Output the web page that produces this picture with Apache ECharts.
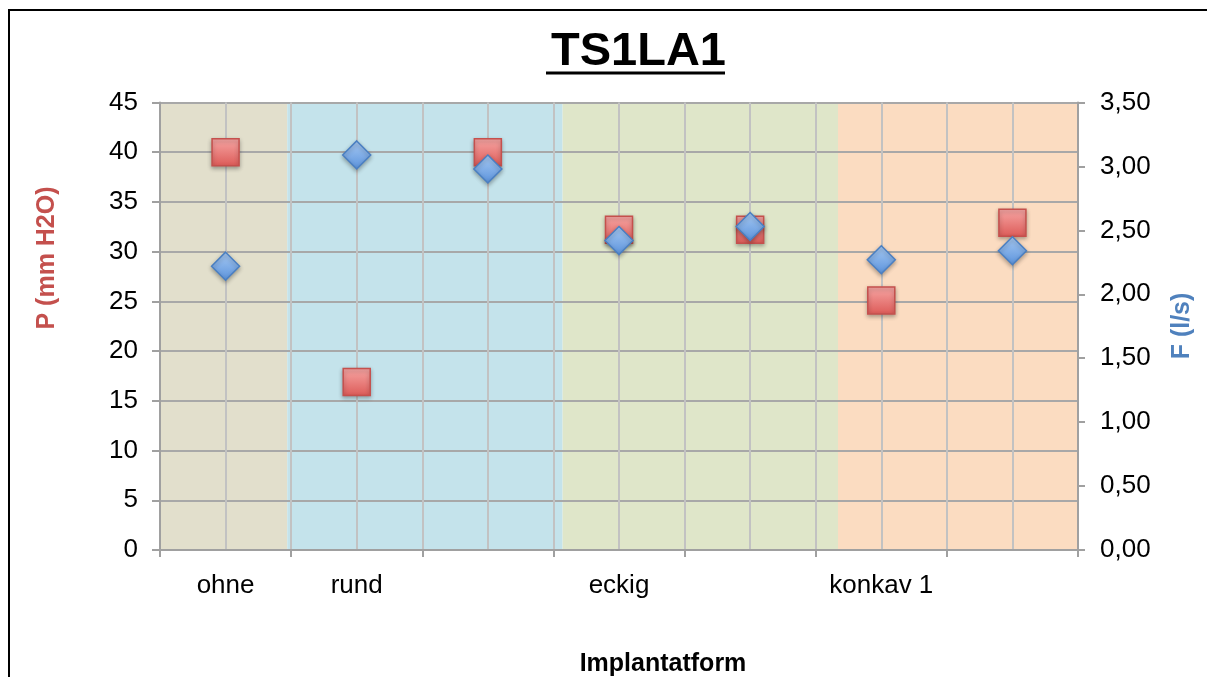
<!DOCTYPE html>
<html>
<head>
<meta charset="utf-8">
<title>TS1LA1</title>
<script src="https://cdn.jsdelivr.net/npm/echarts@6/dist/echarts.min.js"></script>
<style>
  html, body { margin: 0; padding: 0; background: #fff; }
  #chart { width: 1207px; height: 677px; }
</style>
</head>
<body>
<div id="chart"></div>
<script>
// Data
const categories = ['ohne', 'rund', '', 'eckig', '', 'konkav 1', ''];
const pressure = [40, 16.9, 40, 32.2, 32.2, 25.1, 32.9];   // P (mm H2O), left axis
const flow = [2.22, 3.09, 2.98, 2.42, 2.53, 2.27, 2.34];    // F (l/s), right axis
const leftTicks = { min: 0, max: 45, step: 5 };
const rightTicks = { min: 0, max: 3.5, step: 0.5 };
// group bands in category units (ohne | rund | eckig | konkav)
const groupEdges = [0, 0.97, 3.07, 5.17, 7];
const groupColors = ['#e2dfcc', '#c4e3eb', '#dfe6c9', '#fbdcc1'];

const FONT = '"Liberation Sans", Arial, Helvetica, sans-serif';

const chart = echarts.init(document.getElementById('chart'));

const bandData = groupColors.map((c, i) => [
  { xAxis: groupEdges[i], itemStyle: { color: c } },
  { xAxis: groupEdges[i + 1] }
]);

function grad(top, bottom) {
  return new echarts.graphic.LinearGradient(0, 0, 0, 1, [
    { offset: 0, color: top },
    { offset: 1, color: bottom }
  ]);
}

chart.setOption({
  backgroundColor: '#fff',
  animation: false,
  textStyle: { fontFamily: FONT },
  title: {
    text: 'TS1LA1',
    left: 546,
    top: 24,
    textStyle: { fontSize: 47, fontWeight: 'bold', color: '#000', fontFamily: FONT }
  },
  grid: { left: 160, right: 129, top: 102.5, bottom: 127, containLabel: false },
  xAxis: [
    {
      type: 'category',
      data: categories,
      boundaryGap: true,
      z: 2,
      axisLine: { lineStyle: { color: '#a0a0a0', width: 2 } },
      axisTick: { show: true, interval: 0, length: 7, lineStyle: { color: '#a0a0a0', width: 2 } },
      axisLabel: { interval: 0, color: '#000', fontSize: 26, margin: 23, fontFamily: FONT },
      splitLine: { show: false }
    },
    {
      type: 'value',
      min: 0,
      max: 7,
      interval: 0.5,
      position: 'bottom',
      z: 2,
      axisLine: { show: false },
      axisTick: { show: false },
      axisLabel: { show: false },
      splitLine: { show: true, lineStyle: { color: '#c2c2c2', width: 2 } }
    }
  ],
  yAxis: [
    {
      type: 'value',
      min: leftTicks.min,
      max: leftTicks.max,
      interval: leftTicks.step,
      z: 2,
      axisLine: { show: true, lineStyle: { color: '#a0a0a0', width: 2 } },
      axisTick: { show: true, length: 8, lineStyle: { color: '#a0a0a0', width: 2 } },
      axisLabel: { color: '#000', fontSize: 26, margin: 22, fontFamily: FONT },
      splitLine: { show: true, lineStyle: { color: '#a8a8a8', width: 2 } }
    },
    {
      type: 'value',
      min: rightTicks.min,
      max: rightTicks.max,
      interval: rightTicks.step,
      position: 'right',
      z: 2,
      axisLine: { show: true, lineStyle: { color: '#a0a0a0', width: 2 } },
      axisTick: { show: true, length: 7, lineStyle: { color: '#a0a0a0', width: 2 } },
      axisLabel: {
        color: '#000', fontSize: 26, margin: 22, fontFamily: FONT,
        formatter: v => v.toFixed(2).replace('.', ',')
      },
      splitLine: { show: false }
    }
  ],
  series: [
    {
      name: 'bands',
      type: 'scatter',
      xAxisIndex: 1,
      yAxisIndex: 0,
      data: [],
      z: 1,
      silent: true,
      markArea: { silent: true, z: 1, data: bandData }
    },
    {
      name: 'P (mm H2O)',
      type: 'scatter',
      xAxisIndex: 0,
      yAxisIndex: 0,
      data: pressure,
      symbol: 'rect',
      symbolSize: 27,
      z: 3,
      itemStyle: {
        color: grad('#f7a7a5', '#dc5a57'),
        borderColor: '#c5504d',
        borderWidth: 1.5,
        shadowColor: 'rgba(0,0,0,0.3)',
        shadowBlur: 4,
        shadowOffsetY: 2,
        opacity: 1
      }
    },
    {
      name: 'F (l/s)',
      type: 'scatter',
      xAxisIndex: 0,
      yAxisIndex: 1,
      data: flow,
      symbol: 'diamond',
      symbolSize: 28,
      z: 4,
      itemStyle: {
        color: grad('#a9cbf3', '#5a92dc'),
        borderColor: '#4a7fc2',
        borderWidth: 1.5,
        shadowColor: 'rgba(0,0,0,0.3)',
        shadowBlur: 4,
        shadowOffsetY: 2,
        opacity: 1
      }
    }
  ],
  graphic: [
    // outer chart frame (runs off the right and bottom edges)
    {
      type: 'rect',
      shape: { x: 9, y: 10, width: 1220, height: 700 },
      style: { fill: null, stroke: '#000', lineWidth: 2 },
      silent: true
    },
    // title underline
    {
      type: 'line',
      shape: { x1: 546, y1: 73, x2: 725, y2: 73 },
      style: { stroke: '#000', lineWidth: 3 },
      silent: true
    },
    {
      type: 'text',
      x: 47,
      y: 258,
      rotation: Math.PI / 2,
      style: {
        text: 'P (mm H2O)', fill: '#c4504d', font: 'bold 25px ' + FONT,
        align: 'center', verticalAlign: 'middle'
      }
    },
    {
      type: 'text',
      x: 1182,
      y: 326,
      rotation: Math.PI / 2,
      style: {
        text: 'F (l/s)', fill: '#4f81bd', font: 'bold 25px ' + FONT,
        align: 'center', verticalAlign: 'middle'
      }
    },
    {
      type: 'text',
      x: 663,
      y: 664,
      style: {
        text: 'Implantatform', fill: '#000', font: 'bold 25px ' + FONT,
        align: 'center', verticalAlign: 'middle'
      }
    }
  ]
});

window.addEventListener('resize', () => chart.resize());
</script>
</body>
</html>
